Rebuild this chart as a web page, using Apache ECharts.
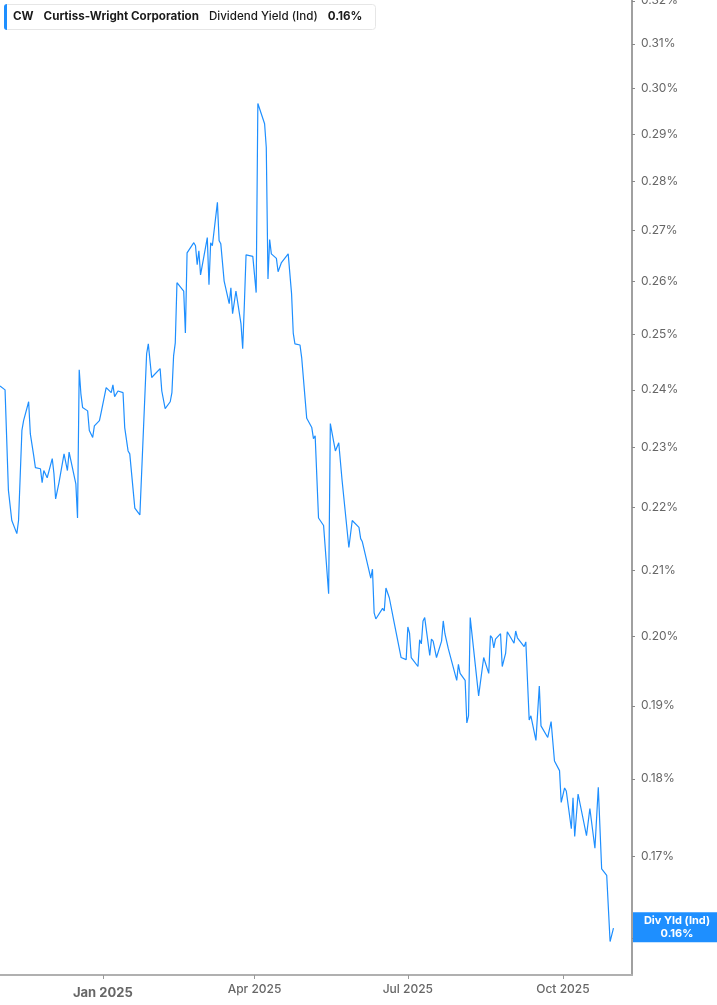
<!DOCTYPE html>
<html>
<head>
<meta charset="utf-8">
<script src="https://cdn.jsdelivr.net/npm/echarts@6/dist/echarts.min.js"></script>
<style>
  html, body { margin: 0; padding: 0; background: #fff; }
  #chart { width: 717px; height: 1005px; }
</style>
</head>
<body>
<div id="chart"></div>
<script>
// CW dividend yield (indicated), %
var dates = [
  '2024-11-01','2024-11-04','2024-11-06','2024-11-07','2024-11-08','2024-11-11','2024-11-12','2024-11-13','2024-11-14','2024-11-15',
  '2024-11-18','2024-11-19','2024-11-20','2024-11-21','2024-11-22','2024-11-25','2024-11-26','2024-11-27','2024-11-29','2024-12-02',
  '2024-12-03','2024-12-04','2024-12-05','2024-12-06','2024-12-09','2024-12-10','2024-12-11','2024-12-12','2024-12-13','2024-12-16',
  '2024-12-17','2024-12-18','2024-12-19','2024-12-20','2024-12-23','2024-12-24','2024-12-26','2024-12-27','2024-12-30','2024-12-31',
  '2025-01-03','2025-01-06','2025-01-07','2025-01-08','2025-01-10','2025-01-13','2025-01-14','2025-01-16','2025-01-17','2025-01-20',
  '2025-01-23','2025-01-24','2025-01-27','2025-01-28','2025-01-29','2025-01-30','2025-01-31','2025-02-04','2025-02-05','2025-02-07',
  '2025-02-10','2025-02-11','2025-02-12','2025-02-13','2025-02-14','2025-02-18','2025-02-19','2025-02-20','2025-02-24','2025-02-25',
  '2025-02-26','2025-02-27','2025-02-28','2025-03-04','2025-03-05','2025-03-06','2025-03-07','2025-03-10','2025-03-11','2025-03-12',
  '2025-03-14','2025-03-17','2025-03-18','2025-03-19','2025-03-21','2025-03-24','2025-03-25','2025-03-26','2025-03-27','2025-03-31',
  '2025-04-02','2025-04-03','2025-04-07','2025-04-08','2025-04-09','2025-04-10','2025-04-11','2025-04-14','2025-04-15','2025-04-17',
  '2025-04-21','2025-04-23','2025-04-24','2025-04-25','2025-04-28','2025-04-29','2025-05-02','2025-05-05','2025-05-06','2025-05-07',
  '2025-05-09','2025-05-12','2025-05-15','2025-05-16','2025-05-19','2025-05-20','2025-05-21','2025-05-22','2025-05-23','2025-05-27',
  '2025-05-29','2025-05-30','2025-06-02','2025-06-03','2025-06-04','2025-06-09','2025-06-10','2025-06-11','2025-06-12','2025-06-16',
  '2025-06-17','2025-06-18','2025-06-20','2025-06-23','2025-06-24','2025-06-27','2025-06-30','2025-07-01','2025-07-02','2025-07-03',
  '2025-07-07','2025-07-08','2025-07-09','2025-07-10','2025-07-11','2025-07-14','2025-07-15','2025-07-16','2025-07-18','2025-07-21',
  '2025-07-22','2025-07-23','2025-07-24','2025-07-25','2025-07-30','2025-07-31','2025-08-01','2025-08-04','2025-08-05','2025-08-06',
  '2025-08-07','2025-08-08','2025-08-12','2025-08-15','2025-08-18','2025-08-19','2025-08-20','2025-08-21','2025-08-22','2025-08-25',
  '2025-08-26','2025-08-28','2025-08-29','2025-09-02','2025-09-03','2025-09-04','2025-09-08','2025-09-09','2025-09-11','2025-09-12',
  '2025-09-15','2025-09-17','2025-09-18','2025-09-22','2025-09-23','2025-09-24','2025-09-26','2025-09-29','2025-09-30','2025-10-01',
  '2025-10-02','2025-10-03','2025-10-06','2025-10-07','2025-10-08','2025-10-10','2025-10-15','2025-10-17','2025-10-20','2025-10-22',
  '2025-10-24','2025-10-27','2025-10-29','2025-10-31'
];
var yields = [
  0.2407,0.2400,0.2228,0.2226,0.2179,0.2158,0.2179,0.2180,0.2329,0.2346,
  0.2379,0.2323,0.2323,0.2286,0.2266,0.2264,0.2241,0.2261,0.2249,0.2281,
  0.2256,0.2214,0.2211,0.2241,0.2289,0.2289,0.2261,0.2292,0.2289,0.2239,
  0.2183,0.2436,0.2393,0.2369,0.2363,0.2329,0.2317,0.2337,0.2346,0.2360,
  0.2404,0.2395,0.2409,0.2388,0.2398,0.2395,0.2334,0.2294,0.2289,0.2199,
  0.2188,0.2190,0.2465,0.2483,0.2481,0.2422,0.2425,0.2438,0.2398,0.2367,
  0.2379,0.2395,0.2461,0.2485,0.2598,0.2582,0.2503,0.2656,0.2676,0.2670,
  0.2633,0.2660,0.2613,0.2686,0.2594,0.2676,0.2670,0.2757,0.2680,0.2674,
  0.2601,0.2558,0.2588,0.2539,0.2582,0.2520,0.2474,0.2558,0.2652,0.2649,
  0.2579,0.2966,0.2922,0.2871,0.2605,0.2682,0.2654,0.2645,0.2619,0.2637,
  0.2654,0.2577,0.2503,0.2483,0.2481,0.2458,0.2350,0.2334,0.2315,0.2320,
  0.2183,0.2171,0.2064,0.2341,0.2294,0.2291,0.2308,0.2306,0.2244,0.2136,
  0.2179,0.2182,0.2168,0.2150,0.2145,0.2088,0.2102,0.2035,0.2026,0.2042,
  0.2038,0.2073,0.2058,0.2019,0.2017,0.1969,0.1966,0.2014,0.2005,0.1969,
  0.1956,0.1995,0.1989,0.2023,0.2028,0.1972,0.1996,0.1993,0.1969,0.1993,
  0.2023,0.2004,0.2004,0.1982,0.1936,0.1959,0.1946,0.1936,0.1876,0.1886,
  0.2028,0.2031,0.1914,0.1969,0.1946,0.2001,0.1998,0.1983,0.1996,0.2004,
  0.1956,0.1975,0.2007,0.1990,0.2008,0.1998,0.1985,0.1992,0.1880,0.1886,
  0.1852,0.1928,0.1872,0.1856,0.1854,0.1878,0.1824,0.1811,0.1769,0.1771,
  0.1788,0.1784,0.1735,0.1775,0.1725,0.1780,0.1726,0.1761,0.1710,0.1789,
  0.1684,0.1676,0.1596,0.1612
];
var yTicks = [0.16, 0.17, 0.18, 0.19, 0.20, 0.21, 0.22, 0.23, 0.24, 0.25, 0.26, 0.27, 0.28, 0.29, 0.30, 0.31, 0.32];
var xTicks = ['2025-01-01', '2025-04-01', '2025-07-01', '2025-10-01'];
var monthNames = ['Jan','Feb','Mar','Apr','May','Jun','Jul','Aug','Sep','Oct','Nov','Dec'];

var lineColor = '#1e8fff';
var lastVal = yields[yields.length - 1];

function ts(s) { return Date.parse(s + 'T00:00:00Z'); }

var seriesData = dates.map(function (d, i) { return [ts(d), yields[i]]; });
var xTickVals = xTicks.map(ts);

var chart = echarts.init(document.getElementById('chart'));
chart.setOption({
  animation: false,
  textStyle: { fontFamily: 'Inter, "Noto Sans", sans-serif' },
  title: {
    left: 4,
    top: 4,
    padding: [0, 13, 0, 0],
    backgroundColor: '#fff',
    borderColor: '#e6e6e6',
    borderWidth: 1,
    borderRadius: 3,
    text: '{bar|}{b|CW}{b2|Curtiss-Wright Corporation}{m|Dividend Yield (Ind)}{b2|' + lastVal.toFixed(2) + '%}',
    textStyle: {
      rich: {
        bar: { width: 3, height: 26, backgroundColor: lineColor, borderRadius: [3, 0, 0, 3] },
        b: { fontSize: 11.6, fontWeight: 700, color: '#1a1a1a', padding: [0, 0, 0, 6], lineHeight: 26 },
        b2: { fontSize: 11.6, fontWeight: 700, color: '#1a1a1a', padding: [0, 0, 0, 10], lineHeight: 26 },
        m: { fontSize: 11.6, fontWeight: 500, color: '#1a1a1a', padding: [0, 0, 0, 10], lineHeight: 26 }
      }
    }
  },
  grid: { left: 0, right: 85, top: 0, bottom: 30, containLabel: false, outerBoundsMode: 'none' },
  xAxis: {
    type: 'value',
    min: ts('2024-11-01'),
    max: ts('2025-11-11'),
    splitLine: { show: false },
    axisLine: { lineStyle: { color: '#b0b0b0', width: 2 } },
    axisTick: { customValues: xTickVals, length: 4, lineStyle: { color: '#999' } },
    axisLabel: {
      customValues: xTickVals,
      margin: 8,
      color: '#666',
      fontSize: 12,
      fontWeight: 500,
      formatter: function (val) {
        var d = new Date(val);
        var s = monthNames[d.getUTCMonth()] + ' ' + d.getUTCFullYear();
        return d.getUTCMonth() === 0 ? '{y|' + s + '}' : s;
      },
      rich: { y: { fontSize: 13, fontWeight: 700, color: '#666', padding: [4, 0, 0, 0] } }
    }
  },
  yAxis: {
    type: 'log',
    logBase: 10,
    position: 'right',
    min: 0.1557,
    max: 0.3202,
    splitLine: { show: false },
    axisLine: { show: true, lineStyle: { color: '#a0a0a0', width: 2 } },
    axisTick: { show: true, customValues: yTicks, length: 3, lineStyle: { color: '#888' } },
    axisLabel: {
      customValues: yTicks,
      margin: 9,
      color: '#666',
      fontSize: 12,
      formatter: function (v) { return v.toFixed(2) + '%'; }
    }
  },
  series: [{
    type: 'line',
    name: 'Div Yld (Ind)',
    data: seriesData,
    showSymbol: false,
    symbol: 'none',
    lineStyle: { color: lineColor, width: 1.2 },
    markLine: {
      silent: true,
      symbol: 'none',
      lineStyle: { width: 0, color: 'rgba(0,0,0,0)' },
      data: [{ yAxis: lastVal }],
      label: {
        show: true,
        position: 'end',
        distance: 1,
        offset: [0, -11],
        backgroundColor: lineColor,
        padding: [2, 6, 2, 6],
        formatter: '{a|Div Yld (Ind)}\n{a|' + lastVal.toFixed(2) + '%}',
        rich: { a: { width: 76, align: 'center', color: '#fff', fontSize: 11, fontWeight: 700, lineHeight: 13 } }
      }
    }
  }]
});
</script>
</body>
</html>
